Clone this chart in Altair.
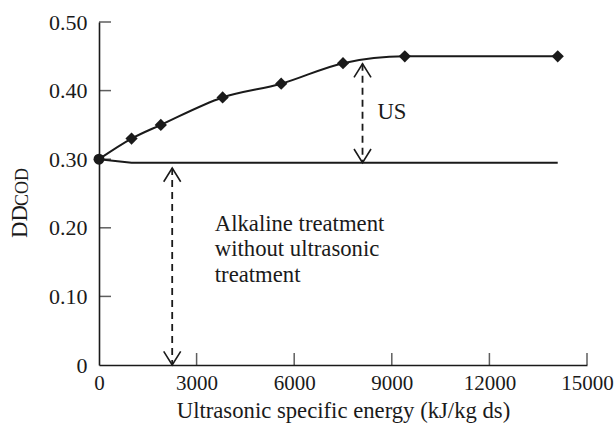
import altair as alt
import pandas as pd

# ---- data ----
energy = [0, 1000, 1900, 3800, 5600, 7500, 9400, 14100]
dd_cod = [0.30, 0.33, 0.35, 0.39, 0.41, 0.44, 0.45, 0.45]

alk_energy = [0, 1000, 14100]
alk_dd = [0.30, 0.295, 0.295]

arrow_x = [8100, 2250]
arrow_top = [0.439, 0.287]
arrow_bottom = [0.295, 0.0]

ann_x = [8560, 3560]
ann_y = [0.358, 0.1955]
ann_text = ["US", "Alkaline treatment\nwithout ultrasonic\ntreatment"]

y_ticks = [0.1, 0.2, 0.3, 0.4, 0.5]
x_ticks = [3000, 6000, 9000, 12000, 15000]

FONT = "Liberation Serif"
INK = "#1a1a1a"
W, H = 488, 343
TXT = 22.7

us = pd.DataFrame({"e": energy, "d": dd_cod})
alk = pd.DataFrame({"e": alk_energy, "d": alk_dd})
arr = pd.DataFrame({"e": arrow_x, "top": arrow_top, "bot": arrow_bottom})
ann = pd.DataFrame({"e": ann_x, "d": ann_y, "t": ann_text})
yt = pd.DataFrame({"v": y_ticks})
xt = pd.DataFrame({"v": x_ticks})

xscale = alt.Scale(domain=[0, 15000], nice=False, zero=True)
yscale = alt.Scale(domain=[0, 0.5], nice=False, zero=True)

X = alt.X("e:Q", scale=xscale,
          axis=alt.Axis(values=x_ticks + [0], title="Ultrasonic specific energy (kJ/kg ds)",
                        format="d", grid=False, ticks=False, tickSize=0, labelFontSize=21,
                        labelPadding=7, titleY=52, titleBaseline="alphabetic"))
Y = alt.Y("d:Q", scale=yscale,
          axis=alt.Axis(values=[0] + y_ticks, title=None, grid=False, ticks=False, tickSize=0,
                        labelPadding=12, labelFontSize=22,
                        labelExpr="datum.value == 0 ? '0' : format(datum.value, '.2f')"))

us_line = alt.Chart(us).mark_line(color=INK, strokeWidth=2, interpolate="monotone").encode(x=X, y=Y)
us_pts = alt.Chart(us).mark_point(filled=True, color=INK, opacity=1).encode(
    x="e:Q", y="d:Q",
    shape=alt.condition("datum.e == 0", alt.value("circle"), alt.value("diamond")),
    size=alt.condition("datum.e == 0", alt.value(120), alt.value(150)),
)
alk_line = alt.Chart(alk).mark_line(color=INK, strokeWidth=2).encode(x="e:Q", y="d:Q")

dash = alt.Chart(arr).mark_rule(color=INK, strokeWidth=1.8, strokeDash=[7, 5]).encode(
    x="e:Q", y="top:Q", y2="bot:Q")
head_up = alt.Chart(arr).mark_point(
    shape="M-1,1.6L0,0L1,1.6", filled=False, color=INK, strokeWidth=1.6, size=289, opacity=1
).encode(x="e:Q", y="top:Q")
head_dn = alt.Chart(arr).mark_point(
    shape="M-1,-1.6L0,0L1,-1.6", filled=False, color=INK, strokeWidth=1.6, size=289, opacity=1
).encode(x="e:Q", y="bot:Q")

texts = alt.Chart(ann).mark_text(
    align="left", baseline="alphabetic", font=FONT, fontSize=TXT, color=INK,
    lineBreak="\n", lineHeight=25.5
).encode(x="e:Q", y="d:Q", text="t:N")

ytick = alt.Chart(yt).mark_tick(color=INK, thickness=1.5, size=12, orient="horizontal").encode(
    y="v:Q", x=alt.value(6))
xtick = alt.Chart(xt).mark_tick(color=INK, thickness=1.5, size=12, orient="vertical").encode(
    x="v:Q", y=alt.value(H - 6))

ytitle_dd = alt.Chart(pd.DataFrame({"t": ["DD"]})).mark_text(
    angle=270, align="left", baseline="alphabetic", font=FONT, fontSize=TXT, color=INK
).encode(text="t:N", x=alt.value(-72), y=alt.value(216))
ytitle_cod = alt.Chart(pd.DataFrame({"t": ["COD"]})).mark_text(
    angle=270, align="left", baseline="alphabetic", font=FONT, fontSize=18, color=INK
).encode(text="t:N", x=alt.value(-71), y=alt.value(184))

chart = alt.layer(
    us_line, alk_line, us_pts, dash, head_up, head_dn, texts, ytick, xtick, ytitle_dd, ytitle_cod
).properties(
    width=W, height=H,
    autosize=alt.AutoSizeParams(type="none"),
    padding={"left": 99, "top": 22, "right": 27, "bottom": 62},
    background="white",
).configure_view(stroke=None).configure_axis(
    domainColor=INK, domainWidth=1.6, labelFont=FONT, labelColor=INK,
    titleFont=FONT, titleFontSize=TXT, titleColor=INK, titleFontWeight="normal",
    labelFlush=False, labelOverlap=False,
)

chart.save("out.html", embed_options={"renderer": "svg", "actions": False})
